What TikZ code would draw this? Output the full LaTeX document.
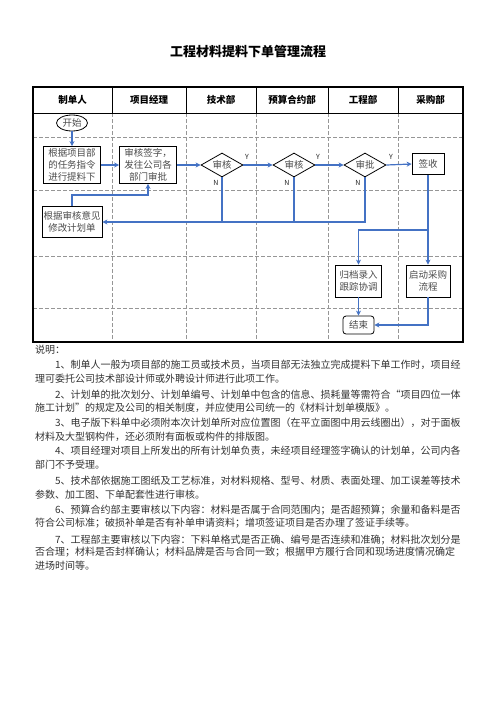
\documentclass[tikz,border=0pt]{standalone}
\usepackage{fontspec}
\setmainfont{Noto Sans CJK SC}
\usetikzlibrary{shapes.geometric,arrows.meta,calc}
\definecolor{flowblue}{RGB}{68,114,196}
\definecolor{gridgray}{RGB}{150,150,150}
\begin{document}
\begin{tikzpicture}[x=1pt,y=-1pt,
  box/.style={draw=black,line width=0.8pt,fill=white,inner sep=0pt,align=center,
    font=\fontsize{9.5pt}{12pt}\selectfont,text=black!70},
  dia/.style={draw=black,line width=0.8pt,fill=white,diamond,aspect=1.75,inner sep=0pt,
    minimum width=42pt,minimum height=24pt,font=\fontsize{9.5pt}{12pt}\selectfont,text=black!70},
  flow/.style={draw=flowblue,line width=1.2pt,-{Stealth[length=5pt,width=5pt]}},
  conn/.style={draw=flowblue,line width=1.2pt},
  yn/.style={font=\fontsize{7pt}{8pt}\selectfont,text=black!85,inner sep=0pt},
  head/.style={font=\fontsize{9.5pt}{11pt}\selectfont\bfseries,inner sep=0pt},
  gridline/.style={draw=gridgray,line width=0.6pt,dash pattern=on 4pt off 2pt},
  desc/.style={anchor=west,inner sep=0pt,font=\fontsize{10pt}{12pt}\selectfont,text=black!80}]
\useasboundingbox (0,0) rectangle (496,702);
\fill[white] (0,0) rectangle (496,702);

% title
\node[font=\fontsize{13pt}{15pt}\selectfont\bfseries,inner sep=0pt] (title) at (248,52) {工程材料提料下单管理流程};

% grid
\foreach \x in {112,186,256,328,398}{
  \draw[gridline] (\x,113) -- (\x,342);
  \draw[black,line width=0.8pt] (\x,87) -- (\x,113);
}
\foreach \y in {137,190,256,308}{
  \draw[gridline] (33,\y) -- (463,\y);
}
\draw[black,line width=0.8pt] (33,113) -- (463,113);
\draw[black,line width=2pt] (33,87) rectangle (463,342);

% headers
\node[head] (h1) at (72.5,100) {制单人};
\node[head] (h2) at (149,100) {项目经理};
\node[head] (h3) at (221,100) {技术部};
\node[head] (h4) at (292,100) {预算合约部};
\node[head] (h5) at (363,100) {工程部};
\node[head] (h6) at (430.5,100) {采购部};

% nodes
\node[box,ellipse,minimum width=31pt,minimum height=16pt] (start) at (72,123) {开始};
\node[box,minimum width=57pt,minimum height=37pt] (b1) at (72,165) {根据项目部\\的任务指令\\进行提料下};
\node[box,minimum width=57pt,minimum height=37pt] (b2) at (148,165) {审核签字，\\发往公司各\\部门审批};
\node[dia] (d1) at (222,165) {审核};
\node[dia] (d2) at (294,165) {审核};
\node[dia] (d3) at (365,165) {审批};
\node[box,minimum width=32pt,minimum height=21pt] (s) at (428,164) {签收};
\node[box,minimum width=60pt,minimum height=31pt] (b3) at (72,222) {根据审核意见\\修改计划单};
\node[box,minimum width=46pt,minimum height=32pt] (g) at (358.5,281) {归档录入\\跟踪协调};
\node[box,minimum width=44pt,minimum height=32pt] (q) at (428,281) {启动采购\\流程};
\node[box,rounded corners=3pt,minimum width=31pt,minimum height=18pt] (e) at (358.5,325) {结束};

% Y / N labels
\node[yn] (y1) at (247,157) {Y};
\node[yn] (y2) at (318,157) {Y};
\node[yn] (y3) at (391,157) {Y};
\node[yn] (n1) at (216,183) {N};
\node[yn] (n2) at (287,183) {N};
\node[yn] (n3) at (358,183) {N};

% connectors
\draw[flow] (start.south) -- (b1.north);
\draw[flow] (b1.east) -- (b2.west);
\draw[flow] (b2.east) -- (d1.west);
\draw[flow] (d1.east) -- (d2.west);
\draw[flow] (d2.east) -- (d3.west);
\draw[flow] (d3.east) -- (s.west);
\draw[conn] (d1.south) -- (d1.south |- b3.east);
\draw[conn] (d2.south) -- (d2.south |- b3.east);
\draw[flow] (d3.south) |- (b3.east);
\coordinate (k1) at (148,195);
\draw[flow] (b3.north) |- (k1) -- (b2.south);
\coordinate (k2) at (428,230);
\draw[conn] (s.south) -- (k2);
\draw[flow] (k2) -| (g.north);
\draw[flow] (k2) -- (q.north);
\draw[flow] (g.south) -- (e.north);
\draw[flow] (q.south) |- (e.east);

% description
\node[desc] (t0) at (35,349.5) {说明：};
\node[desc] (t1) at (55,365) {1、制单人一般为项目部的施工员或技术员，当项目部无法独立完成提料下单工作时，项目经};
\node[desc] (t2) at (35,379) {理可委托公司技术部设计师或外聘设计师进行此项工作。};
\node[desc] (t3) at (55,395) {2、计划单的批次划分、计划单编号、计划单中包含的信息、损耗量等需符合“项目四位一体};
\node[desc] (t4) at (35,408) {施工计划”的规定及公司的相关制度，并应使用公司统一的《材料计划单模版》。};
\node[desc] (t5) at (55,423) {3、电子版下料单中必须附本次计划单所对应位置图（在平立面图中用云线圈出），对于面板};
\node[desc] (t6) at (35,437) {材料及大型钢构件，还必须附有面板或构件的排版图。};
\node[desc] (t7) at (55,451) {4、项目经理对项目上所发出的所有计划单负责，未经项目经理签字确认的计划单，公司内各};
\node[desc] (t8) at (35,464.5) {部门不予受理。};
\node[desc] (t9) at (55,481) {5、技术部依据施工图纸及工艺标准，对材料规格、型号、材质、表面处理、加工误差等技术};
\node[desc] (t10) at (35,494.5) {参数、加工图、下单配套性进行审核。};
\node[desc] (t11) at (55,510) {6、预算合约部主要审核以下内容：材料是否属于合同范围内；是否超预算；余量和备料是否};
\node[desc] (t12) at (35,523.5) {符合公司标准；破损补单是否有补单申请资料；增项签证项目是否办理了签证手续等。};
\node[desc] (t13) at (55,540) {7、工程部主要审核以下内容：下料单格式是否正确、编号是否连续和准确；材料批次划分是};
\node[desc] (t14) at (35,552.5) {否合理；材料是否封样确认；材料品牌是否与合同一致；根据甲方履行合同和现场进度情况确定};
\node[desc] (t15) at (35,566) {进场时间等。};
\end{tikzpicture}
\end{document}
